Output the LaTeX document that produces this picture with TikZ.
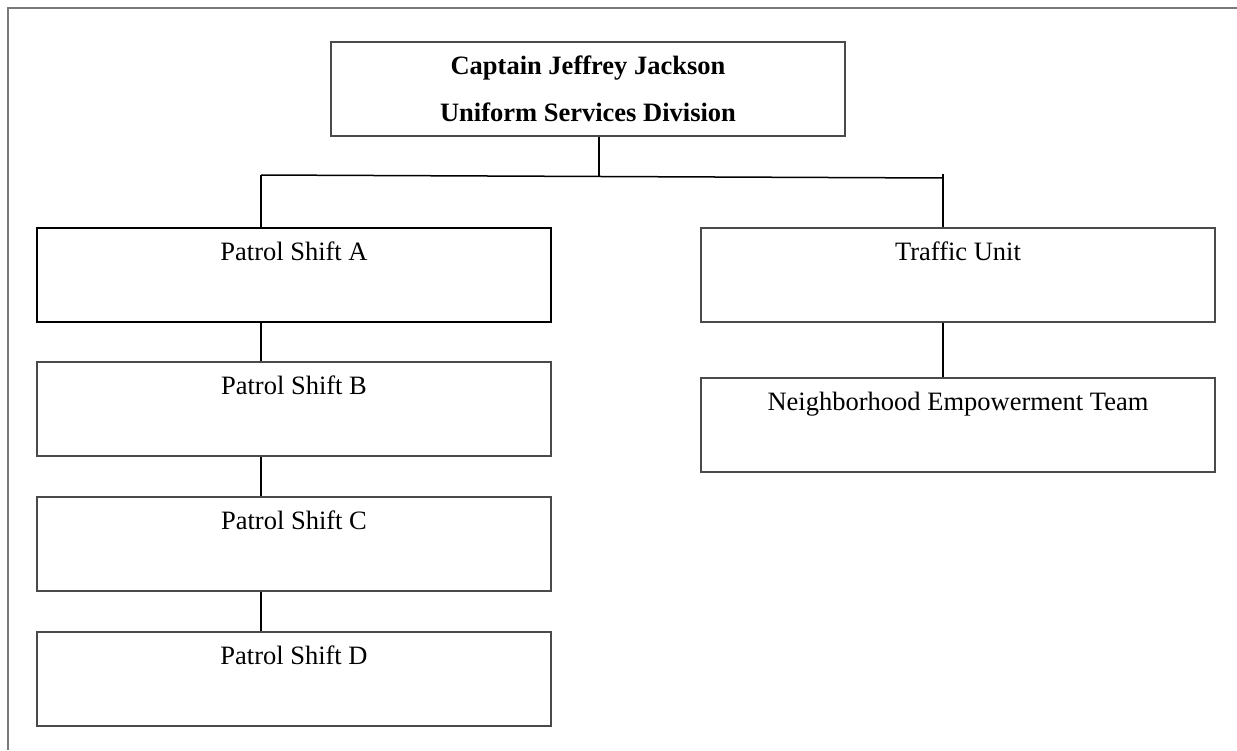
\documentclass[tikz,border=0pt]{standalone}
\usepackage{fontspec}
\setmainfont{Liberation Serif}
\definecolor{boxgray}{HTML}{4A4A4A}
\definecolor{framegray}{HTML}{7A7A7A}
\begin{document}
\begin{tikzpicture}[x=0.5pt,y=-0.5pt,
  orgbox/.style={draw=boxgray, line width=0.75pt, rectangle, inner sep=0pt,
    minimum width=257pt, minimum height=47pt,
    text height=16pt, text depth=31pt,
    font=\fontsize{13.25}{16}\selectfont},
  topbox/.style={draw=boxgray, line width=0.75pt, rectangle, inner sep=0pt,
    minimum width=257pt, minimum height=47pt, align=center,
    font=\fontsize{13.25}{23.5}\selectfont\bfseries},
  conn/.style={draw=black, line width=0.75pt},
  framel/.style={draw=framegray, line width=0.6pt}]
\useasboundingbox (0,0) rectangle (1237,750);
% page frame
\coordinate (fTR) at (1237,8);
\coordinate (fTL) at (8,8);
\coordinate (fBL) at (8,750);
\draw[framel] (fTR) -- (fTL) -- (fBL);
% boxes
\node[topbox] (top) at (588,89) {Captain Jeffrey Jackson\\Uniform Services Division};
\node[orgbox, draw=black, line width=1pt] (pa) at (294,275) {Patrol Shift A};
\node[orgbox] (pb) at (294,409) {Patrol Shift B};
\node[orgbox] (pc) at (294,544) {Patrol Shift C};
\node[orgbox] (pd) at (294,679) {Patrol Shift D};
\node[orgbox] (tu) at (958,275) {Traffic Unit};
\node[orgbox] (net) at (958,425) {Neighborhood Empowerment Team};
% bus
\coordinate (tx) at (599,176);
\coordinate (busL) at (261,175);
\coordinate (busR) at (943,178);
\coordinate (busRtop) at (943,174);
\draw[conn] (top.south -| tx) -- (tx);
\draw[conn] (busL) -- (busR);
\draw[conn] (busL) -- (pa.north -| busL);
\draw[conn] (busRtop) -- (tu.north -| busRtop);
% chains
\draw[conn] (pa.south -| busL) -- (pb.north -| busL);
\draw[conn] (pb.south -| busL) -- (pc.north -| busL);
\draw[conn] (pc.south -| busL) -- (pd.north -| busL);
\draw[conn] (tu.south -| busR) -- (net.north -| busR);
\end{tikzpicture}
\end{document}
